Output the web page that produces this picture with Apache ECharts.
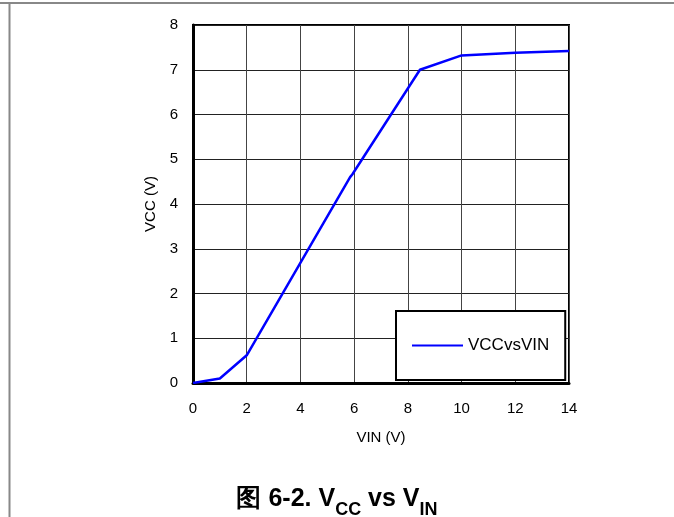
<!DOCTYPE html>
<html>
<head>
<meta charset="utf-8">
<script src="https://cdn.jsdelivr.net/npm/echarts@6/dist/echarts.min.js"></script>
<style>
html,body{margin:0;padding:0;background:#fff;}
#c{width:674px;height:517px;}
</style>
</head>
<body>
<div id="c"></div>
<script>
var vin = [0, 1, 2, 5.85, 5.93, 8.45, 10, 12, 14];
var vcc = [0, 0.1, 0.62, 4.6, 4.66, 7.0, 7.32, 7.38, 7.42];
var seriesName = 'VCCvsVIN';
var xTicks = [0, 2, 4, 6, 8, 10, 12, 14];
var yTicks = [0, 1, 2, 3, 4, 5, 6, 7, 8];

var data = vin.map(function (v, i) { return [v, vcc[i]]; });
var font = 'Liberation Sans, Arial, sans-serif';

var chart = echarts.init(document.getElementById('c'));
chart.setOption({
  animation: false,
  backgroundColor: '#fff',
  title: {
    text: '{m|图 6-2. V}{s|CC}{m| vs V}{s|IN}',
    left: 'center',
    top: 477,
    textStyle: {
      rich: {
        m: { fontFamily: font, fontSize: 25, fontWeight: 'bold', color: '#000', verticalAlign: 'bottom', lineHeight: 30 },
        s: { fontFamily: font, fontSize: 18, fontWeight: 'bold', color: '#000', verticalAlign: 'bottom', lineHeight: 22, padding: [0, 0, -7, 0] }
      }
    }
  },
  grid: { left: 193, top: 25, width: 376, height: 358, show: true, borderColor: '#000', borderWidth: 2, backgroundColor: 'transparent' },
  legend: {
    left: 396, top: 311,
    orient: 'vertical',
    backgroundColor: '#fff',
    borderColor: '#000',
    borderWidth: 2,
    borderRadius: 0,
    padding: [26, 16, 26, 16],
    itemWidth: 51,
    itemHeight: 16,
    itemGap: 5,
    icon: 'path://M0,7 L51,7 L51,9 L0,9 Z',
    textStyle: { fontFamily: font, fontSize: 17, color: '#000' },
    data: [seriesName]
  },
  xAxis: {
    type: 'value', min: 0, max: 14, interval: 2,
    name: 'VIN (V)', nameLocation: 'middle', nameGap: 47,
    nameTextStyle: { fontFamily: font, fontSize: 15, color: '#000' },
    axisLine: { show: true, onZero: false, lineStyle: { color: '#000', width: 3 } },
    axisTick: { show: false },
    axisLabel: { fontFamily: font, fontSize: 15, color: '#000', margin: 18,
      formatter: function (v) { return xTicks.indexOf(v) >= 0 ? String(v) : ''; } },
    splitLine: { show: true, lineStyle: { color: '#444', width: 1 } }
  },
  yAxis: {
    type: 'value', min: 0, max: 8, interval: 1,
    name: 'VCC (V)', nameLocation: 'middle', nameGap: 26, nameRotate: 90,
    nameTextStyle: { fontFamily: font, fontSize: 15, color: '#000' },
    axisLine: { show: true, onZero: false, lineStyle: { color: '#000', width: 3 } },
    axisTick: { show: false },
    axisLabel: { fontFamily: font, fontSize: 15, color: '#000', margin: 15,
      formatter: function (v) { return yTicks.indexOf(v) >= 0 ? String(v) : ''; } },
    splitLine: { show: true, lineStyle: { color: '#222', width: 1 } }
  },
  series: [{
    name: seriesName,
    type: 'line',
    data: data,
    showSymbol: false,
    symbol: 'none',
    lineStyle: { color: '#0000ff', width: 2.5 },
    itemStyle: { color: '#0000ff' },
    z: 3
  }],
  graphic: [
    { type: 'line', shape: { x1: 0, y1: 3, x2: 674, y2: 3 }, style: { stroke: '#888', lineWidth: 2 } },
    { type: 'line', shape: { x1: 9.5, y1: 3, x2: 9.5, y2: 517 }, style: { stroke: '#888', lineWidth: 2 } }
  ]
});
</script>
</body>
</html>
